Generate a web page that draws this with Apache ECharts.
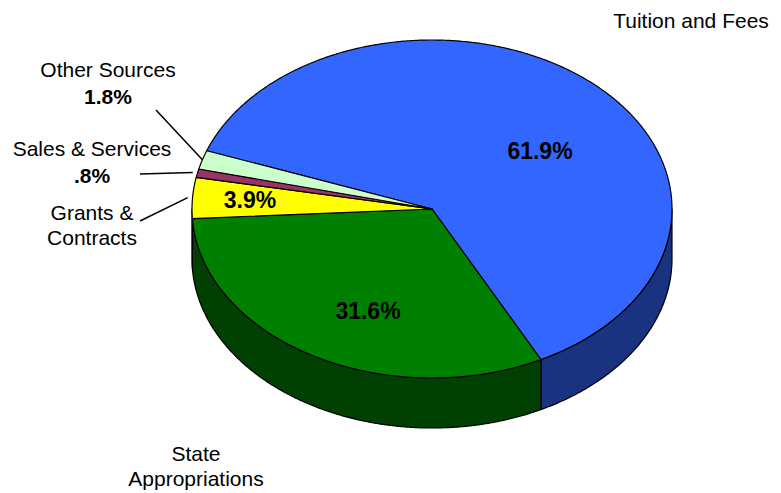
<!DOCTYPE html>
<html>
<head>
<meta charset="utf-8">
<script src="https://cdn.jsdelivr.net/npm/echarts@6/dist/echarts.min.js"></script>
<style>
  html, body { margin: 0; padding: 0; background: #fff; }
  #chart { width: 781px; height: 493px; }
</style>
</head>
<body>
<div id="chart"></div>
<script>
// Revenue sources (percent of total)
const categories = ['Tuition and Fees', 'State\nAppropriations', 'Grants &\nContracts', 'Sales & Services', 'Other Sources'];
const values = [61.9, 31.6, 3.9, 0.8, 1.8];

// Slice colours: top faces and darker side walls
const topColors = ['#3366FF', '#008000', '#FFFF00', '#993366', '#CCFFCC'];
const sideColors = ['#1A3380', '#004000', '#808000', '#4D1A33', '#668066'];

// Tilted pie geometry (pixels); angles run clockwise from 3 o'clock
const pie = { cx: 432, cy: 209, rx: 240, ry: 169, depth: 50, startAngle: 200.16 };

// Label placement: name block centre, percent centre, optional leader start
const labelLayout = [
  { name: [691, 20], pct: [540, 151], inside: true },
  { name: [196, 466], pct: [368, 311], inside: true },
  { name: [92, 225], pct: [250, 200], inside: true, leaderFrom: [140, 221], leaderK: 1.02 },
  { name: [92, 148], pct: [92, 175], inside: false, leaderFrom: [140, 174], leaderK: 1.02 },
  { name: [108, 69], pct: [108, 96], inside: false, leaderFrom: [156, 110], leaderK: 1.0 }
];

const FONT = '"Liberation Sans", Arial, Helvetica, sans-serif';

const total = values.reduce((a, b) => a + b, 0);
const spans = values.map(v => v / total * 360);
const starts = [];
(function () {
  let acc = pie.startAngle;
  spans.forEach(s => { starts.push(acc); acc += s; });
})();

function pt(deg, k, dy) {
  const r = deg * Math.PI / 180;
  return [pie.cx + pie.rx * k * Math.cos(r), pie.cy + pie.ry * k * Math.sin(r) + dy];
}
function arc(a1, a2, dy) {
  const pts = [];
  const n = Math.max(2, Math.ceil(Math.abs(a2 - a1) / 0.5));
  for (let i = 0; i <= n; i++) pts.push(pt(a1 + (a2 - a1) * i / n, 1, dy));
  return pts;
}
const pctText = v => v.toFixed(1).replace(/^0\./, '.') + '%';

const chart = echarts.init(document.getElementById('chart'), null, { renderer: 'svg' });

chart.setOption({
  animation: false,
  backgroundColor: '#ffffff',
  series: [
    {
      // side walls (front half only)
      type: 'custom',
      coordinateSystem: 'none',
      z: 1,
      silent: true,
      data: values,
      renderItem: function (params, api) {
        const i = params.dataIndex;
        const span = api.value(0) / total * 360;
        const a1 = ((starts[i] % 360) + 360) % 360;
        const a2 = a1 + span;
        const children = [];
        [[0, 180], [360, 540]].forEach(function (r) {
          const s = Math.max(a1, r[0]), e = Math.min(a2, r[1]);
          if (e > s) {
            const pts = arc(s, e, 0).concat(arc(e, s, pie.depth));
            children.push({
              type: 'polygon',
              shape: { points: pts },
              style: { fill: sideColors[i], stroke: '#000', lineWidth: 1.2, lineJoin: 'round' }
            });
          }
        });
        return { type: 'group', children: children };
      }
    },
    {
      // top faces
      type: 'custom',
      coordinateSystem: 'none',
      z: 2,
      silent: true,
      data: values,
      renderItem: function (params, api) {
        const i = params.dataIndex;
        const a1 = starts[i];
        const a2 = a1 + api.value(0) / total * 360;
        const pts = [[pie.cx, pie.cy]].concat(arc(a1, a2, 0));
        return {
          type: 'polygon',
          shape: { points: pts },
          style: { fill: topColors[i], stroke: '#000', lineWidth: 1.2, lineJoin: 'round' }
        };
      }
    },
    {
      // names, percentages and leader lines
      type: 'custom',
      coordinateSystem: 'none',
      z: 3,
      silent: true,
      data: values,
      renderItem: function (params, api) {
        const i = params.dataIndex;
        const L = labelLayout[i];
        const v = api.value(0);
        const children = [];
        children.push({
          type: 'text',
          style: {
            x: L.name[0], y: L.name[1], text: categories[i],
            font: '21px ' + FONT, fill: '#000', lineHeight: 25,
            align: 'center', verticalAlign: 'middle'
          }
        });
        children.push({
          type: 'text',
          style: {
            x: L.pct[0], y: L.pct[1], text: pctText(v),
            font: 'bold ' + (L.inside ? 23 : 21) + 'px ' + FONT, fill: '#000',
            align: 'center', verticalAlign: 'middle'
          }
        });
        if (L.leaderFrom) {
          const mid = starts[i] + v / total * 180;
          const end = pt(mid, L.leaderK, 0);
          children.push({
            type: 'line',
            shape: { x1: L.leaderFrom[0], y1: L.leaderFrom[1], x2: end[0], y2: end[1] },
            style: { stroke: '#000', lineWidth: 1.5 }
          });
        }
        return { type: 'group', children: children };
      }
    }
  ]
});
</script>
</body>
</html>
